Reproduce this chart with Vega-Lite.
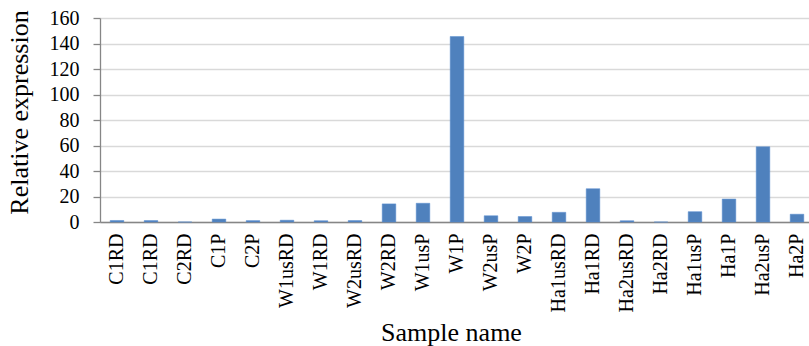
{
  "$schema": "https://vega.github.io/schema/vega-lite/v6.json",
  "autosize": "none",
  "padding": {"left": 100, "top": 18, "right": 0, "bottom": 124},
  "width": 714,
  "height": 204,
  "background": "white",
  "data": {
    "values": [
      {"key": "01 C1RD", "value": 1.2},
      {"key": "02 C1RD", "value": 1.1},
      {"key": "03 C2RD", "value": 0},
      {"key": "04 C1P", "value": 2.3},
      {"key": "05 C2P", "value": 1.1},
      {"key": "06 W1usRD", "value": 1.4},
      {"key": "07 W1RD", "value": 1.0},
      {"key": "08 W2usRD", "value": 1.1},
      {"key": "09 W2RD", "value": 14.2},
      {"key": "10 W1usP", "value": 14.7},
      {"key": "11 W1P", "value": 145.5},
      {"key": "12 W2usP", "value": 4.9},
      {"key": "13 W2P", "value": 4.3},
      {"key": "14 Ha1usRD", "value": 7.6},
      {"key": "15 Ha1RD", "value": 26.1},
      {"key": "16 Ha2usRD", "value": 1.0},
      {"key": "17 Ha2RD", "value": 0},
      {"key": "18 Ha1usP", "value": 8.1},
      {"key": "19 Ha1P", "value": 18.0},
      {"key": "20 Ha2usP", "value": 59.0},
      {"key": "21 Ha2P", "value": 6.1}
    ]
  },
  "mark": {"type": "bar", "color": "#4F81BD", "stroke": "#5B8ED0", "strokeWidth": 0.5},
  "encoding": {
    "x": {
      "field": "key",
      "type": "ordinal",
      "sort": null,
      "scale": {"paddingInner": 0.6, "paddingOuter": 0.3},
      "axis": {
        "title": "Sample name",
        "titleFont": "Liberation Serif",
        "titleFontSize": 26,
        "titleFontWeight": "normal",
        "titleColor": "#000000",
        "titleX": 351,
        "titleY": 118,
        "titleBaseline": "alphabetic",
        "titleAlign": "center",
        "labelExpr": "substring(datum.value, 3)",
        "labelAngle": 270,
        "labelFont": "Liberation Serif",
        "labelFontSize": 20,
        "labelColor": "#000000",
        "labelPadding": 11,
        "labelOverlap": false,
        "labelLimit": 0,
        "ticks": false,
        "domainColor": "#868686",
        "domainWidth": 1.3,
        "grid": false
      }
    },
    "y": {
      "field": "value",
      "type": "quantitative",
      "scale": {"domain": [0, 160], "nice": false},
      "axis": {
        "title": "Relative expression",
        "titleFont": "Liberation Serif",
        "titleFontSize": 26,
        "titleFontWeight": "normal",
        "titleColor": "#000000",
        "titleAngle": -90,
        "titleX": -81,
        "titleY": 94,
        "titleAlign": "center",
        "titleBaseline": "middle",
        "values": [0, 20, 40, 60, 80, 100, 120, 140, 160],
        "labelFont": "Liberation Serif",
        "labelFontSize": 20,
        "labelColor": "#000000",
        "labelPadding": 14,
        "tickSize": 7,
        "tickColor": "#868686",
        "tickWidth": 1.3,
        "domainColor": "#868686",
        "domainWidth": 1.3,
        "grid": true,
        "gridColor": "#D9D9D9",
        "gridWidth": 1.5
      }
    }
  },
  "config": {"view": {"stroke": null}}
}
